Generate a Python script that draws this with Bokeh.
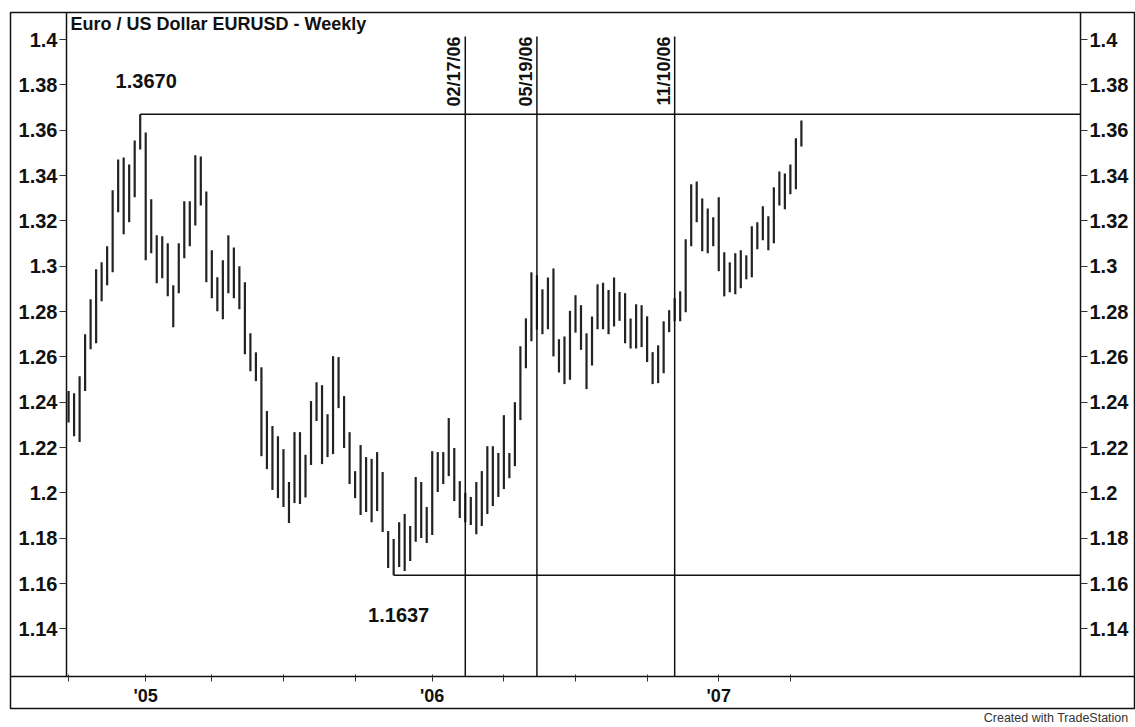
import pandas as pd
from math import pi
from bokeh.plotting import figure
from bokeh.models import (LinearAxis, FixedTicker, NumeralTickFormatter, Title,
                          Range1d, ColumnDataSource)
from bokeh.core.properties import value
from bokeh.embed import file_html
from bokeh.resources import INLINE

# ---------------- data (weekly EUR/USD bars, high / low) ----------------
first_week = "2004-10-01"
high = [1.2450, 1.2440, 1.2515, 1.2700, 1.2854, 1.2986, 1.3017, 1.3088, 1.3335, 1.3471,
        1.3480, 1.3449, 1.3555, 1.3670, 1.3590, 1.3295, 1.3136, 1.3132, 1.3101, 1.2916,
        1.3101, 1.3286, 1.3286, 1.3489, 1.3484, 1.3330, 1.3070, 1.2951, 1.3026, 1.3136,
        1.3083, 1.3000, 1.2929, 1.2704, 1.2620, 1.2554, 1.2361, 1.2295, 1.2250, 1.2193,
        1.2048, 1.2268, 1.2268, 1.2168, 1.2405, 1.2488, 1.2475, 1.2347, 1.2603, 1.2599,
        1.2427, 1.2268, 1.2096, 1.2211, 1.2158, 1.2150, 1.2180, 1.2092, 1.1832, 1.1797,
        1.1871, 1.1907, 1.1854, 1.2070, 1.2048, 1.1938, 1.2184, 1.2180, 1.2180, 1.2330,
        1.2198, 1.2052, 1.2000, 1.1982, 1.2048, 1.2096, 1.2206, 1.2206, 1.2176, 1.2343,
        1.2176, 1.2400, 1.2647, 1.2770, 1.2973, 1.2960, 1.2898, 1.2950, 1.2990, 1.2678,
        1.2690, 1.2803, 1.2872, 1.2828, 1.2704, 1.2778, 1.2920, 1.2927, 1.2895, 1.2950,
        1.2886, 1.2881, 1.2769, 1.2832, 1.2828, 1.2779, 1.2621, 1.2651, 1.2757, 1.2806,
        1.2859, 1.2889, 1.3119, 1.3361, 1.3374, 1.3299, 1.3255, 1.3216, 1.3304, 1.3061,
        1.3017, 1.3057, 1.3070, 1.3048, 1.3176, 1.3194, 1.3264, 1.3220, 1.3348, 1.3418,
        1.3409, 1.3449, 1.3564, 1.3643]
low = [1.2310, 1.2250, 1.2224, 1.2449, 1.2634, 1.2660, 1.2845, 1.2916, 1.2973, 1.3238,
       1.3141, 1.3194, 1.3304, 1.3515, 1.3026, 1.3057, 1.2925, 1.2947, 1.2867, 1.2731,
       1.2881, 1.3035, 1.3088, 1.3180, 1.3268, 1.2929, 1.2859, 1.2801, 1.2766, 1.2881,
       1.2859, 1.2810, 1.2612, 1.2537, 1.2493, 1.2162, 1.2105, 1.2013, 1.1977, 1.1938,
       1.1867, 1.1955, 1.1951, 1.1980, 1.2123, 1.2317, 1.2127, 1.2158, 1.2171, 1.2374,
       1.2198, 1.2039, 1.1977, 1.1902, 1.1916, 1.1871, 1.1920, 1.1827, 1.1669, 1.1637,
       1.1673, 1.1656, 1.1700, 1.1784, 1.1801, 1.1779, 1.1814, 1.2004, 1.2039, 1.2074,
       1.1964, 1.1889, 1.1870, 1.1858, 1.1818, 1.1854, 1.1907, 1.1942, 1.1982, 1.2017,
       1.2065, 1.2118, 1.2321, 1.2550, 1.2669, 1.2720, 1.2700, 1.2722, 1.2602, 1.2531,
       1.2480, 1.2499, 1.2707, 1.2631, 1.2458, 1.2562, 1.2722, 1.2722, 1.2700, 1.2734,
       1.2759, 1.2660, 1.2637, 1.2637, 1.2643, 1.2577, 1.2480, 1.2484, 1.2528, 1.2709,
       1.2757, 1.2757, 1.2797, 1.3088, 1.3194, 1.3066, 1.3057, 1.3088, 1.2978, 1.2867,
       1.2885, 1.2876, 1.2903, 1.2942, 1.2951, 1.3075, 1.3114, 1.3070, 1.3101, 1.3268,
       1.3251, 1.3317, 1.3339, 1.3528]

marked_dates = ["2006-02-17", "2006-05-19", "2006-11-10"]
marked_labels = ["02/17/06", "05/19/06", "11/10/06"]
price_ticks = [1.14, 1.16, 1.18, 1.20, 1.22, 1.24, 1.26, 1.28, 1.30, 1.32, 1.34, 1.36, 1.38, 1.40]
quarter_ticks = ["2004-10-01", "2005-01-07", "2005-04-01", "2005-07-01", "2005-09-30",
                 "2006-01-06", "2006-04-07", "2006-07-07", "2006-10-06", "2007-01-05", "2007-04-06"]
year_labels = {"2005-01-07": "'05", "2006-01-06": "'06", "2007-01-05": "'07"}
peak_date, peak_value, peak_text = "2004-12-31", 1.3670, "1.3670"
trough_date, trough_value, trough_text = "2005-11-18", 1.1637, "1.1637"
title_text = "Euro / US Dollar EURUSD - Weekly"
credit_text = "Created with TradeStation"

# ---------------- geometry (page pixels) ----------------
W, H = 1135, 727
BOX_L, BOX_R, BOX_T, BOX_B = 10, 1135, 12, 708      # outer frame = bokeh frame
IN_L, IN_R, IN_B = 66, 1080, 676                     # inner chart area
FONT = "Liberation Sans"

def ms(d):
    return pd.Timestamp(d).value // 10**6

week = 7 * 86400000
t0 = ms(first_week)
X0, PXW = 68.07, 5.51          # pixel of first bar, pixels per week
PY0, PXU = 39.0, 2267.0        # pixel of price 1.40, pixels per unit of price

def x_at(px):
    return t0 + (px - X0) / PXW * week

def y_at(py):
    return 1.40 - (py - PY0) / PXU

xs, xe = x_at(BOX_L), x_at(BOX_R)
ys, ye = y_at(BOX_B), y_at(BOX_T)
in_left, in_right, in_bottom = x_at(IN_L), x_at(IN_R), y_at(IN_B)

dates = pd.date_range(first_week, periods=len(high), freq="W-FRI")

p = figure(width=W, height=H, output_backend="svg", toolbar_location=None,
           x_axis_location=None, y_axis_location=None,
           x_range=Range1d(xs, xe), y_range=Range1d(ys, ye),
           min_border_left=BOX_L, min_border_right=W - BOX_R,
           min_border_top=BOX_T, min_border_bottom=H - BOX_B,
           background_fill_color="white", border_fill_color="white")
p.grid.visible = False
p.outline_line_color = "#111111"
p.outline_line_width = 1.5

# price axes (left and right), placed on the inner chart edges
def style_price_axis(ax, size):
    ax.ticker = FixedTicker(ticks=price_ticks)
    ax.formatter = NumeralTickFormatter(format="0.[00]")
    ax.major_label_text_font = FONT
    ax.major_label_text_font_style = "bold"
    ax.major_label_text_font_size = size
    ax.major_label_text_color = "#111111"
    ax.major_tick_out = 7
    ax.major_tick_in = 0
    ax.minor_tick_line_color = None
    ax.major_tick_line_color = "#333333"
    ax.axis_line_color = "#111111"
    ax.axis_line_width = 1.5
    ax.major_label_standoff = 2
    ax.bounds = (in_bottom, ye)

left_axis = LinearAxis(fixed_location=in_left)
style_price_axis(left_axis, "20px")
p.add_layout(left_axis, "left")
right_axis = LinearAxis(fixed_location=in_right)
style_price_axis(right_axis, "20px")
p.add_layout(right_axis, "right")

# date axis on the separator line
xa = LinearAxis(fixed_location=in_bottom)
xa.ticker = FixedTicker(ticks=[ms(d) for d in quarter_ticks])
xa.major_label_overrides = {ms(d): year_labels.get(d, "") for d in quarter_ticks}
xa.major_label_text_font = FONT
xa.major_label_text_font_style = "bold"
xa.major_label_text_font_size = "18px"
xa.major_label_text_color = "#111111"
xa.major_tick_out = 5
xa.major_tick_in = 2
xa.minor_tick_line_color = None
xa.major_tick_line_color = "#333333"
xa.axis_line_color = "#111111"
xa.axis_line_width = 1.5
xa.major_label_standoff = 4
p.add_layout(xa, "below")

# bars
src = ColumnDataSource(dict(date=dates, high=high, low=low))
p.segment(x0="date", y0="low", x1="date", y1="high", source=src,
          line_color="#222222", line_width=2.2)

# support / resistance lines
p.segment(x0=[pd.Timestamp(peak_date), pd.Timestamp(trough_date)],
          y0=[peak_value, trough_value], x1=[in_right, in_right], y1=[peak_value, trough_value],
          line_color="#111111", line_width=1.5)
p.text(x=[pd.Timestamp(peak_date)], y=[peak_value], text=[peak_text],
       x_offset=6, y_offset=-33, text_align="center", text_baseline="middle",
       text_font=value(FONT), text_font_style="bold", text_font_size="20px",
       text_color="#111111")
p.text(x=[pd.Timestamp(trough_date)], y=[trough_value], text=[trough_text],
       x_offset=5, y_offset=40, text_align="center", text_baseline="middle",
       text_font=value(FONT), text_font_style="bold", text_font_size="20px",
       text_color="#111111")

# vertical date markers
top_mark = y_at(36)
md = [pd.Timestamp(d) for d in marked_dates]
p.segment(x0=md, y0=[top_mark] * len(md), x1=md, y1=[in_bottom] * len(md),
          line_color="#111111", line_width=1.5)
p.text(x=md, y=[top_mark] * len(md), text=marked_labels, angle=pi / 2,
       text_align="right", text_baseline="bottom", x_offset=-1,
       text_font=value(FONT), text_font_style="bold", text_font_size="18px",
       text_color="#111111")

# title inside the chart
p.text(x=[in_left], y=[ye], text=[title_text], x_offset=4, y_offset=11,
       text_align="left", text_baseline="middle",
       text_font=value(FONT), text_font_style="bold", text_font_size="18px",
       text_color="#111111")

# credit under the frame
credit = Title(text=credit_text, align="right", text_font=FONT, text_font_style="normal",
               text_font_size="12.5px", text_color="#333333", standoff=0, offset=7)
p.add_layout(credit, "below")

open("out.html", "w").write(file_html(p, INLINE))
